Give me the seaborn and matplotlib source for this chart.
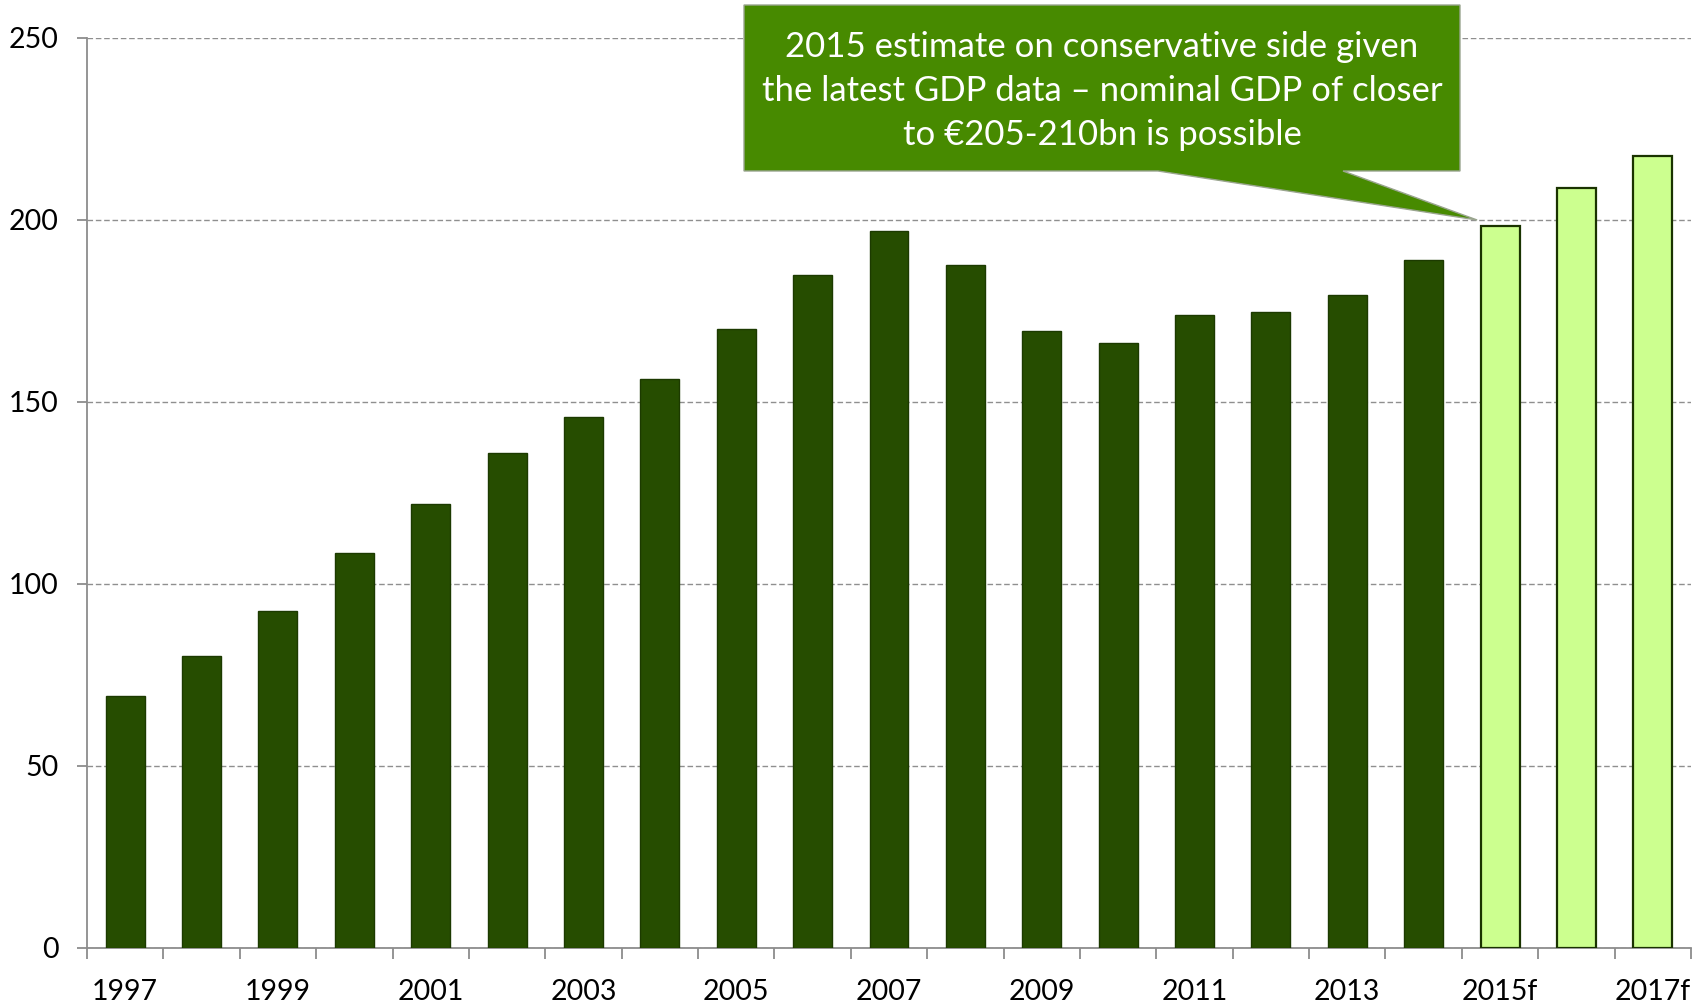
import matplotlib
matplotlib.use("Agg")
import matplotlib.pyplot as plt
from matplotlib.patches import Polygon
import seaborn as sns
import pandas as pd

# Nominal GDP, EUR bn (actuals and forecasts)
years = ["1997", "1998", "1999", "2000", "2001", "2002", "2003", "2004", "2005",
         "2006", "2007", "2008", "2009", "2010", "2011", "2012", "2013", "2014",
         "2015f", "2016f", "2017f"]
gdp = [69.3, 80.3, 92.6, 108.4, 121.9, 135.9, 145.8, 156.2, 170.0, 184.9,
       197.1, 187.6, 169.4, 166.1, 173.8, 174.7, 179.5, 189.1, 198.3, 208.8, 217.7]
kind = ["Actual"] * 18 + ["Forecast"] * 3
shown_labels = [y if i % 2 == 0 else "" for i, y in enumerate(years)]
y_ticks = [0, 50, 100, 150, 200, 250]
callout_text = ("2015 estimate on conservative side given\n"
                "the latest GDP data \u2013 nominal GDP of closer\n"
                "to \u20ac205-210bn is possible")

df = pd.DataFrame({"year": years, "gdp": gdp, "kind": kind})

sns.set_style("white")
plt.rcParams["font.family"] = ["Lato", "DejaVu Sans"]

W, H = 1705, 1006
fig = plt.figure(figsize=(W / 100, H / 100), dpi=100)
ax = fig.add_axes([87 / W, 1 - 948 / H, (1691 - 87) / W, (948 - 38) / H])

palette = {"Actual": "#264d00", "Forecast": "#ccff8f"}
sns.barplot(data=df, x="year", y="gdp", hue="kind", palette=palette,
            saturation=1, dodge=False, width=0.51, legend=False, ax=ax, zorder=3)

for patch, k in zip(ax.patches, kind):
    if k == "Actual":
        patch.set_edgecolor("#1c3a00")
        patch.set_linewidth(1.0)
    else:
        patch.set_edgecolor("#1a3300")
        patch.set_linewidth(1.6)

ax.set_xlim(-0.5, len(years) - 0.5)
ax.set_ylim(0, 250)
ax.set_yticks(y_ticks)
ax.set_yticklabels([str(v) for v in y_ticks])
ax.set_xticks(range(len(years)))
ax.set_xticklabels(shown_labels)
ax.set_xlabel("")
ax.set_ylabel("")

# gridlines
ax.yaxis.grid(True, linestyle=(0, (4, 2)), color="#8f8f8f", linewidth=1.0)
ax.xaxis.grid(False)
ax.set_axisbelow(True)

for side in ("top", "right"):
    ax.spines[side].set_visible(False)
for side in ("left", "bottom"):
    ax.spines[side].set_color("#8c8c8c")
    ax.spines[side].set_linewidth(1.3)

# y ticks outward, x ticks at category boundaries
ax.tick_params(axis="y", which="major", direction="out", length=7.5, width=1.3,
               color="#8c8c8c", pad=13, labelsize=20.5, labelcolor="black", left=True)
ax.tick_params(axis="x", which="major", length=0, pad=22, labelsize=20.5,
               labelcolor="black")
ax.set_xticks([i - 0.5 for i in range(len(years) + 1)], minor=True)
ax.tick_params(axis="x", which="minor", direction="out", length=8, width=1.3,
               color="#8c8c8c", bottom=True)

# callout box with pointer towards the 2015 forecast
fig.canvas.draw()
to_fig = fig.transFigure.inverted()
tip = to_fig.transform(ax.transData.transform((17.7, 200)))


def fp(px, py):
    return (px / W, 1 - py / H)


box_l, box_r, box_t, box_b = 744, 1460, 5, 171
poly = [fp(box_l, box_t), fp(box_r, box_t), fp(box_r, box_b), fp(1343, box_b),
        tuple(tip), fp(1158, box_b), fp(box_l, box_b)]
fig.patches.append(Polygon(poly, closed=True, transform=fig.transFigure,
                           facecolor="#478a00", edgecolor="#9aa58f",
                           linewidth=1.0, zorder=10))
fig.text((box_l + box_r) / 2 / W, 1 - 91 / H, callout_text, ha="center",
         va="center", color="white", fontsize=25, linespacing=1.45, zorder=11)

fig.savefig("out.png", dpi=100)
